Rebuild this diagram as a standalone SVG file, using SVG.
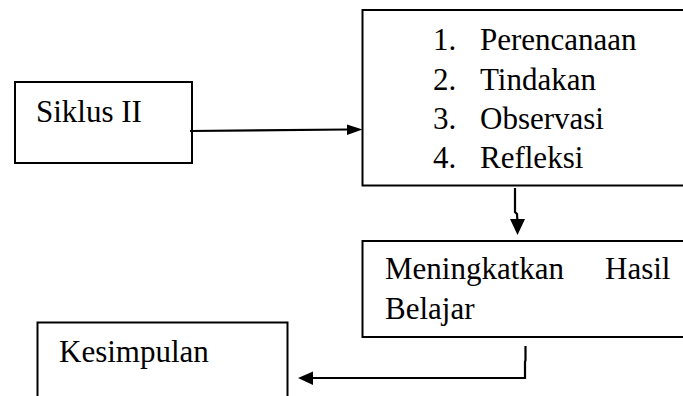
<svg xmlns="http://www.w3.org/2000/svg" width="683" height="396" viewBox="0 0 683 396">
<style>
.box{fill:#fff;stroke:#000;stroke-width:2}
.t{font-size:31px;fill:#000}
.c{fill:none;stroke:#000;stroke-width:2.2}
.h{fill:#000}
</style>
<rect width="683" height="396" fill="#fff"/>
<g font-family="Liberation Serif, Tinos, Times New Roman, DejaVu Serif, serif">
<g id="siklus">
<rect class="box" x="15" y="82" width="177" height="81"/>
<text class="t" x="36" y="122">Siklus II</text>
</g>
<g id="tahapan">
<rect class="box" x="362.5" y="10" width="330" height="175.5"/>
<text class="t" x="433" y="50">1.</text><text class="t" x="480" y="50">Perencanaan</text>
<text class="t" x="433" y="90">2.</text><text class="t" x="480" y="90">Tindakan</text>
<text class="t" x="433" y="129">3.</text><text class="t" x="480" y="129">Observasi</text>
<text class="t" x="433" y="168">4.</text><text class="t" x="480" y="168">Refleksi</text>
</g>
<g id="hasil">
<rect class="box" x="362.5" y="241" width="330" height="96"/>
<text class="t" x="385" y="279">Meningkatkan</text>
<text class="t" x="605" y="279">Hasil</text>
<text class="t" x="385" y="319">Belajar</text>
</g>
<g id="kesimpulan">
<rect class="box" x="37.5" y="322.5" width="250" height="90"/>
<text class="t" x="59" y="362">Kesimpulan</text>
</g>
</g>
<g id="connectors">
<path class="c" d="M190 131 L348 129.5"/>
<polygon class="h" points="347,124.5 362.5,129.5 347,135"/>
<path class="c" d="M515 188 L515 212 L517 214 L517.5 222"/>
<polygon class="h" points="510,219 525,219 517.5,235"/>
<path class="c" d="M525.5 346 L525.5 360 L525 362 L525 378 L312 378"/>
<polygon class="h" points="313,371.5 298,378 313,385"/>
</g>
</svg>
